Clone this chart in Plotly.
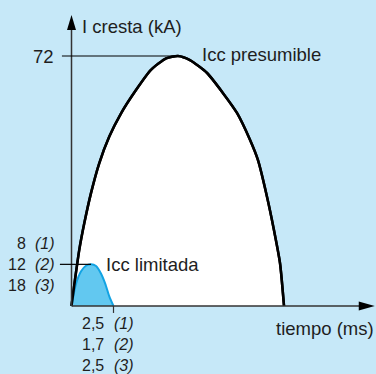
import plotly.graph_objects as go

# Prospective (presumed) short-circuit current, peak value in kA over time in ms
t_presumed = [0, 0.23, 0.46, 0.76, 1.16, 1.65, 2.25, 2.95, 3.84, 4.73, 5.63, 6.34,
              7.05, 8.07, 9.02, 9.85, 10.63, 11.10, 11.64, 12.05, 12.41, 12.65]
i_presumed = [0, 8.35, 16.1, 23.8, 32.5, 41.1, 48.8, 55.5, 62.2, 68.0, 71.3, 72.0,
              70.8, 67.1, 61.3, 55.6, 47.8, 42.0, 31.4, 21.9, 12.4, 0]

# Current limited by the device
t_limited = [0, 0.27, 0.57, 0.86, 1.16, 1.46, 1.76, 2.01, 2.25, 2.5]
i_limited = [0, 6.4, 10.0, 11.6, 12.0, 11.5, 9.3, 6.4, 2.8, 0]

peak_presumed = 72
peak_limited = 12
t_cut = 2.5

# Label rows for the three cases (1), (2), (3)
peak_values = ["8", "12", "18"]
time_values = ["2,5", "1,7", "2,5"]
case_tags = ["(1)", "(2)", "(3)"]

BG = "#c6e8f8"
INK = "#1e1e1e"
FONT = "Liberation Sans, Arial, Helvetica, sans-serif"
FS = 18.5
FS_ROWS = 16

fig = go.Figure()

# presumed current: white area with black outline
fig.add_trace(go.Scatter(x=t_presumed, y=i_presumed, mode="lines", fill="toself",
                         fillcolor="white",
                         line=dict(color="black", width=2.5, shape="spline", smoothing=0.6),
                         hoverinfo="skip"))
# limited current: blue area
fig.add_trace(go.Scatter(x=t_limited, y=i_limited, mode="lines", fill="toself",
                         fillcolor="#62c8f0",
                         line=dict(color="#12a3e3", width=2, shape="spline", smoothing=0.6),
                         hoverinfo="skip"))
# presumed curve outline over the blue area
fig.add_trace(go.Scatter(x=t_presumed, y=i_presumed, mode="lines",
                         line=dict(color="black", width=2.5, shape="spline", smoothing=0.6),
                         hoverinfo="skip"))

x_top = 18.05
y_top = 83.8
shapes = [
    # axes
    dict(type="line", x0=0, y0=0, x1=0, y1=y_top - 3.5, line=dict(color="#333", width=1.5)),
    dict(type="line", x0=0, y0=0, x1=x_top - 0.8, y1=0, line=dict(color="#333", width=1.5)),
    # arrowheads
    dict(type="path", xsizemode="pixel", ysizemode="pixel", xanchor=0, yanchor=y_top,
         path="M0,0 L-4.5,-15 L4.5,-15 Z", fillcolor="black", line=dict(width=0)),
    dict(type="path", xsizemode="pixel", ysizemode="pixel", xanchor=x_top, yanchor=0,
         path="M0,0 L-16,4.5 L-16,-4.5 Z", fillcolor="black", line=dict(width=0)),
    # reference lines to the peaks
    dict(type="line", x0=-0.57, y0=peak_presumed, x1=6.34, y1=peak_presumed,
         line=dict(color="black", width=1.2)),
    dict(type="line", x0=-0.69, y0=peak_limited, x1=1.16, y1=peak_limited,
         line=dict(color="black", width=1.2)),
    # tick at the cut-off time
    dict(type="line", x0=t_cut, y0=0, x1=t_cut, y1=-2.0, line=dict(color="#333", width=1.2)),
]


def label(text, x, y, xanchor="left", size=FS, align="left"):
    return dict(text=text, x=x, y=y, xref="x", yref="y", xanchor=xanchor, yanchor="middle",
                align=align, showarrow=False, font=dict(family=FONT, size=size, color=INK))


def italic_lines(items):
    return "<br>".join("<i>" + s + "</i>" for s in items)


annotations = [
    label("I cresta (kA)", 0.51, 80.6),
    label(str(peak_presumed), -0.92, peak_presumed, xanchor="right"),
    label("Icc presumible", 7.65, 72.3),
    label("Icc limitada", 1.93, peak_limited),
    label("tiempo (ms)", 18.12, -6.34, xanchor="right"),
    # peak current per case, beside the limited-peak line
    label("<br>".join(peak_values), -2.59, peak_limited, xanchor="right",
          size=FS_ROWS, align="right"),
    label(italic_lines(case_tags), -2.29, peak_limited, size=FS_ROWS),
    # cut-off time per case, under the time tick
    label("<br>".join(time_values), 2.05, -10.94, xanchor="right",
          size=FS_ROWS, align="right"),
    label(italic_lines(case_tags), 2.41, -10.94, size=FS_ROWS),
]

fig.update_layout(
    width=376, height=374, autosize=False,
    margin=dict(l=0, r=0, t=0, b=0),
    paper_bgcolor=BG, plot_bgcolor=BG,
    showlegend=False,
    xaxis=dict(range=[-4.256, 18.125], visible=False, fixedrange=True),
    yaxis=dict(range=[-19.58, 88.13], visible=False, fixedrange=True),
    shapes=shapes, annotations=annotations,
)

fig.write_html("out.html", config={"displayModeBar": False})
